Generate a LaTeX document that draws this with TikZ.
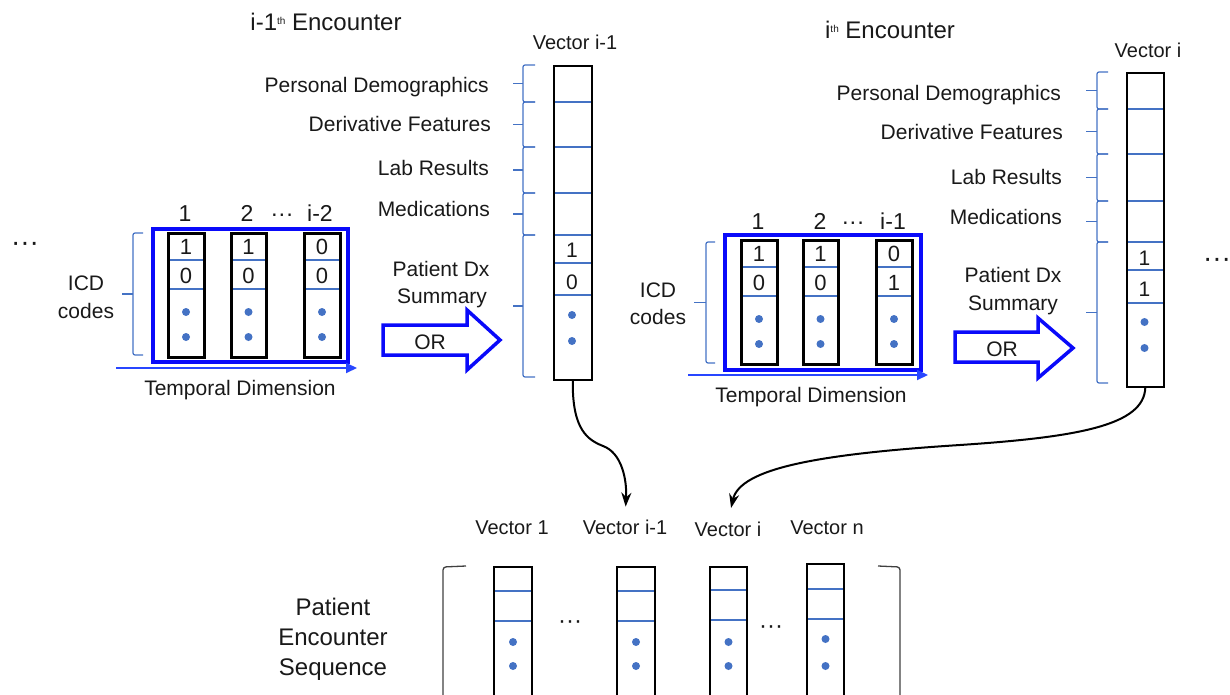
\documentclass[tikz,border=0pt]{standalone}
\usepackage{fontspec}
\setmainfont{Liberation Sans}
\usetikzlibrary{arrows.meta}
\definecolor{lb}{HTML}{4472C4}
\definecolor{pb}{RGB}{10,10,250}
\definecolor{tb}{RGB}{40,70,255}
\definecolor{ink}{RGB}{25,25,25}

\newcommand\icdcol[6]{%
  \draw[cell] (#2,#4+27) -- (#3,#4+27);
  \draw[cell] (#2,#4+56) -- (#3,#4+56);
  \draw[colbox] (#2,#4) rectangle (#3,#4+124);
  \node[t22] (#1a) at ({(#2+#3)/2},#4+14) {#5};
  \node[t22] (#1b) at ({(#2+#3)/2},#4+43) {#6};
  \fill[lb] ({(#2+#3)/2},#4+79) circle (4pt);
  \fill[lb] ({(#2+#3)/2},#4+104) circle (4pt);
}
\newcommand\bkt[5]{%
  \draw[brc, rounded corners=2pt] (#4,#2) -- (#1,#2) -- (#1,#3) -- (#4,#3);
  \draw[brc] (#1,{(#2+#3)/2}) -- (#5,{(#2+#3)/2});
}
\newcommand\smallvec[8]{%
  \draw[cell] (#2,#5) -- (#3,#5);
  \draw[cell] (#2,#6) -- (#3,#6);
  \draw[vec] (#2,710) -- (#2,#4) -- (#3,#4) -- (#3,710);
  \coordinate (#1) at ({(#2+#3)/2},#4);
  \fill[lb] ({(#2+#3)/2},#7) circle (4pt);
  \fill[lb] ({(#2+#3)/2},#8) circle (4pt);
}

\begin{document}
\begin{tikzpicture}[x=1pt,y=-1pt,
  every node/.style={inner sep=0pt, text=ink},
  t20/.style={font=\fontsize{20}{24}\selectfont, text height=14.4pt, text depth=0pt},
  t21/.style={font=\fontsize{21}{25}\selectfont, text height=15pt, text depth=0pt},
  t22/.style={font=\fontsize{22}{26}\selectfont, text height=15.8pt, text depth=0pt},
  t23/.style={font=\fontsize{23}{27}\selectfont, text height=16.5pt, text depth=0pt},
  t24/.style={font=\fontsize{24}{28}\selectfont, text height=17.3pt, text depth=0pt},
  t28/.style={font=\fontsize{28}{32}\selectfont, text height=20pt, text depth=0pt},
  bigbox/.style={draw=pb, line width=3.5pt},
  colbox/.style={draw=black, line width=3pt},
  cell/.style={draw=lb, line width=1.2pt},
  vec/.style={draw=black, line width=1.6pt},
  brc/.style={draw=lb, line width=1.2pt},
  tarr/.style={draw=tb, line width=2pt, -{Triangle[length=11pt,width=10pt]}},
  orarr/.style={draw=pb, line width=3.5pt, fill=white, line join=miter},
  conn/.style={draw=black, line width=2pt, -{Stealth[length=14pt,width=10pt]}},
  sbr/.style={draw=black!75, line width=1.3pt, rounded corners=3pt}
]
\useasboundingbox (0,0) rectangle (1230,695);

% ---------------- titles
\node[t24] (titA) at (326,22) {i-1{\fontsize{10}{12}\selectfont\raisebox{6pt}{th}} Encounter};
\node[t24] (titB) at (890,30) {i{\fontsize{10}{12}\selectfont\raisebox{6pt}{th}} Encounter};

% ---------------- left encounter block
\node[t28] (dotsL) at (25,241) {···};
\node[t23] (hA1) at (185,213) {1};
\node[t23] (hA2) at (247,213) {2};
\node[t23] (hA3) at (282,213) {···};
\node[t23] (hA4) at (320,213) {i-2};
\draw[bigbox] (153,229) rectangle (348,362);
\icdcol{cA1}{168}{204}{233}{1}{0}
\icdcol{cA2}{231}{266}{233}{1}{0}
\icdcol{cA3}{304}{340}{233}{0}{0}
\bkt{133}{233}{355}{143}{122}
\node[t21] (icdA1) at (86,283) {ICD};
\node[t21] (icdA2) at (86,311) {codes};
\draw[tarr] (116,368) -- (357,368);
\node[t21] (tempA) at (240,388) {Temporal Dimension};

% labels left vector
\node[t21, anchor=east] (pdA) at (489,85) {Personal Demographics};
\node[t21, anchor=east] (dfA) at (491,124) {Derivative Features};
\node[t21, anchor=east] (lrA) at (489,168) {Lab Results};
\node[t21, anchor=east] (mdA) at (490,209) {Medications};
\node[t21] (dxA1) at (441,269) {Patient Dx};
\node[t21] (dxA2) at (442,296) {Summary};
\draw[orarr] (383,325) -- (467,325) -- (467,310) -- (500,340) -- (467,370) -- (467,355) -- (383,355) -- cycle;
\node[t21] (orA) at (430,342) {OR};

% vector i-1
\foreach \yy in {102,147,193,235,263,295} \draw[cell] (553,\yy) -- (591,\yy);
\node[vec, minimum width=38pt, minimum height=314pt, anchor=north west] (vA) at (553,65) {};
\node[t20] (vAt) at (575,42) {Vector i-1};
\node[t21] (vA1) at (572,250) {1};
\node[t21] (vA2) at (572,282) {0};
\fill[lb] (572,315) circle (4pt);
\fill[lb] (572,341) circle (4pt);
\bkt{523}{65}{102}{535}{513}
\bkt{523}{102}{147}{535}{513}
\bkt{523}{147}{193}{535}{513}
\bkt{523}{193}{235}{535}{513}
\bkt{523}{235}{377}{535}{513}

% ---------------- right encounter block
\node[t23] (hB1) at (758,221) {1};
\node[t23] (hB2) at (820,221) {2};
\node[t23] (hB3) at (853,221) {···};
\node[t23] (hB4) at (893,221) {i-1};
\draw[bigbox] (725,235) rectangle (921,370);
\icdcol{cB1}{741}{777}{240}{1}{0}
\icdcol{cB2}{803}{838}{240}{1}{0}
\icdcol{cB3}{876}{912}{240}{0}{1}
\bkt{706}{242}{363}{715}{694}
\node[t21] (icdB1) at (658,290) {ICD};
\node[t21] (icdB2) at (658,317) {codes};
\draw[tarr] (688,375) -- (928,375);
\node[t21] (tempB) at (811,395) {Temporal Dimension};

\node[t21, anchor=east] (pdB) at (1061,93) {Personal Demographics};
\node[t21, anchor=east] (dfB) at (1063,132) {Derivative Features};
\node[t21, anchor=east] (lrB) at (1062,177) {Lab Results};
\node[t21, anchor=east] (mdB) at (1062,217) {Medications};
\node[t21] (dxB1) at (1013,275) {Patient Dx};
\node[t21] (dxB2) at (1013,303) {Summary};
\draw[orarr] (955,332) -- (1038,332) -- (1038,318) -- (1073,348) -- (1038,378) -- (1038,362) -- (955,362) -- cycle;
\node[t21] (orB) at (1002,349) {OR};

% vector i
\foreach \yy in {109,154,201,242,270,303} \draw[cell] (1126,\yy) -- (1163,\yy);
\node[vec, minimum width=37pt, minimum height=314pt, anchor=north west] (vB) at (1126,72) {};
\node[t20] (vBt) at (1148,50) {Vector i};
\node[t21] (vB1) at (1144.5,258) {1};
\node[t21] (vB2) at (1144.5,289) {1};
\fill[lb] (1144.5,322) circle (4pt);
\fill[lb] (1144.5,348) circle (4pt);
\bkt{1097}{72}{109}{1108}{1086}
\bkt{1097}{109}{154}{1108}{1086}
\bkt{1097}{154}{201}{1108}{1086}
\bkt{1097}{201}{242}{1108}{1086}
\bkt{1097}{242}{383}{1108}{1086}
\node[t28] (dotsR) at (1217,257) {···};

% ---------------- bottom sequence
\node[t20] (lb1) at (512,527) {Vector 1};
\node[t20] (lb2) at (625,527) {Vector i-1};
\node[t20] (lb3) at (728,529) {Vector i};
\node[t20] (lb4) at (827,527) {Vector n};

\smallvec{s1}{494}{532}{567}{591}{621}{642}{666}
\smallvec{s2}{617}{655}{567}{591}{621}{642}{666}
\smallvec{s3}{710}{747}{567}{590}{620}{642}{666}
\smallvec{s4}{807}{844}{564}{589}{619}{639}{666}
\node[t24] (sd1) at (570,620) {···};
\node[t24] (sd2) at (771,625) {···};
\draw[sbr] (466,566) -- (443,567) -- (443,710);
\draw[sbr] (878,566) -- (900,567) -- (900,710);

\node[t24] (pes1) at (333,607) {Patient};
\node[t24] (pes2) at (333,637) {Encounter};
\node[t24] (pes3) at (333,667) {Sequence};

% ---------------- connectors
\draw[conn, shorten >=13pt] (vA.south) .. controls (572,430) and (588,440) .. (603,446)
   .. controls (622,453) and (627,480) .. (lb2.north);
\draw[conn, shorten >=14pt] (vB.south) .. controls (1144,425) and (1080,437) .. (960,445)
   .. controls (820,454) and (740,468) .. (lb3.north);
\end{tikzpicture}
\end{document}
